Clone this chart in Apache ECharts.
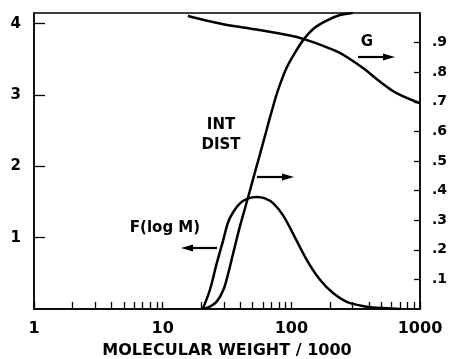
<!DOCTYPE html>
<html>
<head>
<meta charset="utf-8">
<script src="https://cdn.jsdelivr.net/npm/echarts@6/dist/echarts.min.js"></script>
<style>html,body{margin:0;padding:0;background:#fff}#c{width:451px;height:359px}</style>
</head>
<body>
<div id="c"></div>
<script>
// Molecular weight / 1000 (x)
const fM   = [20.5, 23.3, 26.3, 29.6, 32.3, 35.4, 39.9, 46.3, 53.8, 62.4, 72.4, 86.5, 103.5, 131.7, 167, 212, 269, 341, 433, 550, 700];
const fVal = [0, 0.27, 0.64, 0.97, 1.22, 1.36, 1.48, 1.55, 1.57, 1.55, 1.48, 1.31, 1.05, 0.69, 0.41, 0.22, 0.10, 0.05, 0.02, 0.01, 0];
const intM = [20.5, 23.3, 26.3, 29.6, 32.3, 35.4, 39.9, 46.3, 52, 56, 62.4, 70.1, 78.9, 92, 110, 127, 152, 190, 239, 300];
const intV = [0, 0.008, 0.025, 0.064, 0.12, 0.19, 0.28, 0.38, 0.46, 0.51, 0.585, 0.665, 0.74, 0.815, 0.875, 0.915, 0.95, 0.975, 0.993, 1.0];
const gM   = [15.7, 29.6, 53.8, 97.6, 127, 167, 225, 268, 363, 490, 658, 1000];
const gV   = [0.99, 0.962, 0.944, 0.924, 0.911, 0.893, 0.87, 0.852, 0.813, 0.768, 0.729, 0.695];
const xTickVals = [1,2,3,4,5,6,7,8,9,10,20,30,40,50,60,70,80,90,100,200,300,400,500,600,700,800,900,1000];
const xLabelVals = [1, 10, 100, 1000];
const leftTicks = [1, 2, 3, 4];
const rightTicks = [0.1, 0.2, 0.3, 0.4, 0.5, 0.6, 0.7, 0.8, 0.9];

const FONT = 'DejaVu Sans';
const chart = echarts.init(document.getElementById('c'), null, {renderer: 'canvas'});
// the x axis is a value axis in log10(M) space so that line smoothing is done on the log scale
const lg = Math.log10;
const pair = (xs, ys) => xs.map((x, i) => [lg(x), ys[i]]);

function arrow(x1, x2, y) {
  const dir = x2 > x1 ? 1 : -1;
  const head = 12;
  return {
    type: 'group',
    children: [
      {type: 'line', shape: {x1: x1, y1: y, x2: x2 - dir * head, y2: y}, style: {stroke: '#000', lineWidth: 2.2}},
      {type: 'polygon', shape: {points: [[x2, y], [x2 - dir * head, y - 3.5], [x2 - dir * head, y + 3.5]]}, style: {fill: '#000'}}
    ]
  };
}
function label(text, x, y) {
  return {type: 'text', x: x, y: y, style: {text: text, fontFamily: FONT, fontWeight: 'bold', fontSize: 15, fill: '#000', align: 'center', verticalAlign: 'middle'}};
}
const lineStyle = {color: '#000', width: 2.5};

chart.setOption({
  animation: false,
  grid: {left: 34, right: 31, top: 13, bottom: 50, outerBoundsMode: 'none', containLabel: false, show: true, borderColor: '#000', borderWidth: 1.5, backgroundColor: 'transparent'},
  xAxis: {
    type: 'value', min: 0, max: 3,
    name: 'MOLECULAR WEIGHT / 1000', nameLocation: 'middle', nameGap: 34,
    nameTextStyle: {fontFamily: FONT, fontWeight: 'bold', fontSize: 16, color: '#000'},
    axisLine: {show: true, lineStyle: {color: '#000', width: 1.5}},
    axisTick: {show: true, inside: true, length: 7, customValues: xTickVals.map(lg), lineStyle: {color: '#000', width: 1.3}},
    axisLabel: {customValues: xLabelVals.map(lg), formatter: v => String(Math.round(Math.pow(10, v))), fontFamily: FONT, fontWeight: 'bold', fontSize: 16, color: '#000', margin: 12},
    splitLine: {show: false}, minorTick: {show: false}
  },
  yAxis: [
    {
      type: 'value', min: 0, max: 4.15, position: 'left',
      axisLine: {show: true, lineStyle: {color: '#000', width: 1.5}},
      axisTick: {show: true, inside: true, length: 11, customValues: leftTicks, lineStyle: {color: '#000', width: 1.3}},
      axisLabel: {customValues: leftTicks, fontFamily: FONT, fontWeight: 'bold', fontSize: 15, color: '#000', margin: 13},
      splitLine: {show: false}
    },
    {
      type: 'value', min: 0, max: 1.0, position: 'right',
      axisLine: {show: true, lineStyle: {color: '#000', width: 1.5}},
      axisTick: {show: true, inside: true, length: 6, customValues: rightTicks, lineStyle: {color: '#000', width: 1.3}},
      axisLabel: {customValues: rightTicks, formatter: v => '.' + Math.round(v * 10), fontFamily: FONT, fontWeight: 'bold', fontSize: 14, color: '#000', margin: 12},
      splitLine: {show: false}
    }
  ],
  series: [
    {name: 'F(log M)', type: 'line', yAxisIndex: 0, data: pair(fM, fVal), smooth: 0.35, showSymbol: false, lineStyle: lineStyle},
    {name: 'INT DIST', type: 'line', yAxisIndex: 1, data: pair(intM, intV), smooth: 0.35, showSymbol: false, lineStyle: lineStyle},
    {name: 'G', type: 'line', yAxisIndex: 1, data: pair(gM, gV), smooth: 0.35, showSymbol: false, lineStyle: lineStyle}
  ],
  graphic: [
    label('G', 367, 42),
    arrow(358, 395, 57),
    label('INT', 221, 125),
    label('DIST', 221, 145),
    arrow(257, 294, 177),
    label('F(log M)', 165, 228),
    arrow(217, 181, 248)
  ]
});
</script>
</body>
</html>
